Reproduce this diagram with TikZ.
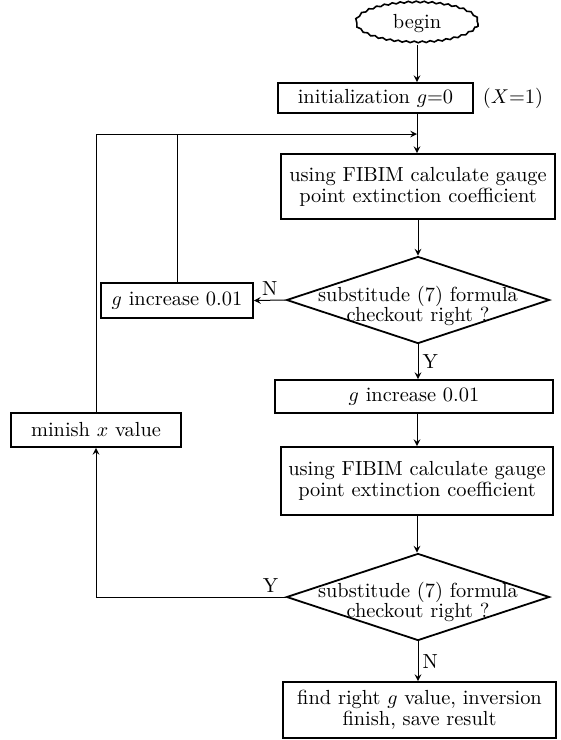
\documentclass[tikz,border=0pt]{standalone}
\usepackage{tikz}
\usetikzlibrary{positioning}
\usetikzlibrary{arrows}
\usetikzlibrary{shapes.geometric}
\usetikzlibrary{decorations.pathmorphing}
\tikzset{
  procbox/.style={draw, rectangle, line width=0.9pt, inner sep=0pt, align=center},
  decision/.style={draw, diamond, line width=0.9pt, inner sep=0pt,
    minimum width=131.5pt, minimum height=43.5pt},
  startend/.style={draw, ellipse, line width=0.8pt, inner sep=0pt, decorate,
    decoration={snake, amplitude=0.4pt, segment length=4pt}},
  flow/.style={->, line width=0.5pt},
  tag/.style={inner sep=2pt},
}
\begin{document}
\begin{tikzpicture}[
  x=0.5pt, y=-0.5pt,
  >=stealth,
  font=\fontsize{10.2}{10.4}\selectfont,
]

  \useasboundingbox (0,0) rectangle (561,740);

  % Main column
  \node[startend, minimum width=61pt, minimum height=20pt] (begin) at (417,24) {begin};
  \node[procbox, minimum width=97.5pt, minimum height=15pt] (init) at (375.5,98)
    {initialization $g$=0};
  \node[tag] (xone) at (513,98) {($X$=1)};
  \coordinate (join) at (417,134);

  \node[procbox, minimum width=137pt, minimum height=32.5pt] (calcA) at (418,186.5)
    {using FIBIM calculate gauge\\point extinction coefficient};
  \node[decision] (checkA) at (418,300) {};
  \node[align=center] (checkAtext) at (418,306)
    {substitude (7) formula\\checkout right ?};

  \node[procbox, minimum width=139pt, minimum height=16.5pt] (incB) at (414,396.5)
    {$g$ increase 0.01};
  \node[procbox, minimum width=136pt, minimum height=34pt] (calcB) at (417,481)
    {using FIBIM calculate gauge\\point extinction coefficient};
  \node[decision] (checkB) at (418,597) {};
  \node[align=center] (checkBtext) at (418,602)
    {substitude (7) formula\\checkout right ?};
  \node[procbox, minimum width=136.5pt, minimum height=28pt] (result) at (419.5,710)
    {find right $g$ value, inversion\\finish, save result};

  % Side boxes
  \node[procbox, minimum width=76pt, minimum height=17.5pt] (incA) at (177,300.5)
    {$g$ increase 0.01};
  \node[procbox, minimum width=85pt, minimum height=17pt] (minish) at (96,430)
    {minish $x$ value};

  % Connectors
  \draw[flow] (begin.south) -- (begin.south |- init.north);
  \draw[flow] (init.south -| join) -- (calcA.north -| join);
  \draw[flow] (calcA.south) -- (checkA.north);
  \draw[flow] (checkA.west) -- node[above, tag] {N} (incA.east);
  \draw[line width=0.5pt] (incA.north) -- (incA.north |- join);
  \draw[flow] (checkA.south) -- node[right, tag] {Y} (checkA.south |- incB.north);
  \draw[flow] (incB.south -| calcB) -- (calcB.north);
  \draw[flow] (calcB.south) -- (calcB.south |- checkB.north);
  \draw[flow] (checkB.west) -- node[above, pos=0.08, tag] {Y} (checkB.west -| minish)
    -- (minish.south);
  \draw[flow] (minish.north) |- (join);
  \draw[flow] (checkB.south) -- node[right, tag] {N} (checkB.south |- result.north);

\end{tikzpicture}
\end{document}
